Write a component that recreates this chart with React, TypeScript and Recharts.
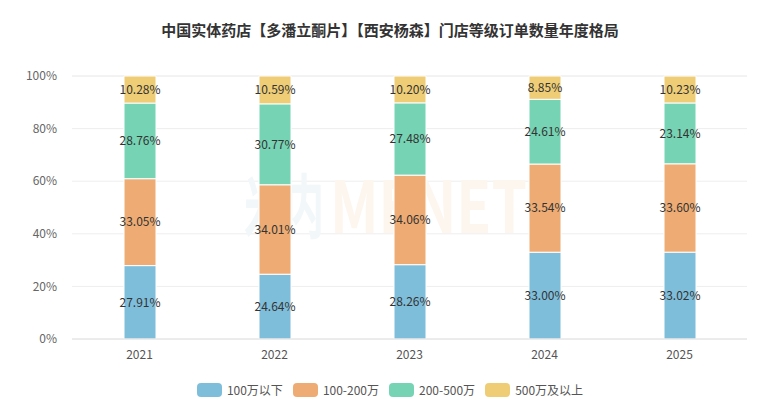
import React from 'react';
import { BarChart, Bar, XAxis, YAxis, CartesianGrid, LabelList, Customized } from 'recharts';

const years = ['2021', '2022', '2023', '2024', '2025'];
const below100 = [27.91, 24.64, 28.26, 33.0, 33.02];
const from100to200 = [33.05, 34.01, 34.06, 33.54, 33.6];
const from200to500 = [28.76, 30.77, 27.48, 24.61, 23.14];
const above500 = [10.28, 10.59, 10.2, 8.85, 10.23];
const yTicks = [0, 20, 40, 60, 80, 100];

const seriesNames = ['100万以下', '100-200万', '200-500万', '500万及以上'];
const seriesKeys = ['s1', 's2', 's3', 's4'];
const colors = ['#7fbedb', '#eeac74', '#76d4b4', '#eecd76'];

const data = years.map((y, i) => ({
  year: y,
  s1: below100[i],
  s2: from100to200[i],
  s3: from200to500[i],
  s4: above500[i],
}));

const FONT = '"Noto Sans CJK SC", "Noto Sans", sans-serif';

const Watermark = () => (
  <g>
    <text x={244} y={233} fontSize={70} fontWeight={700} fill="#f2f7f9" fontFamily={FONT} textLength={80} lengthAdjust="spacingAndGlyphs">米内</text>
    <text x={330} y={233} fontSize={72} fontWeight={700} fill="#fdf6ef" fontFamily={FONT} textLength={197} lengthAdjust="spacingAndGlyphs">MENET</text>
  </g>
);

export default function App() {
  return (
    <div style={{ position: 'absolute', left: 0, top: 0, width: 780, height: 400, background: '#fff' }}>
      <div style={{ position: 'absolute', left: 0, top: 19, width: 780, textAlign: 'center', fontFamily: FONT, fontSize: 15, fontWeight: 700, color: '#333' }}>
        中国实体药店【多潘立酮片】【西安杨森】门店等级订单数量年度格局
      </div>
      <BarChart width={780} height={400} data={data} margin={{ top: 76, right: 33, bottom: 31, left: 0 }}>
        <Customized component={Watermark} />
        <CartesianGrid vertical={false} stroke="#eeeeee" />
        <XAxis dataKey="year" height={30} tickLine={false} axisLine={{ stroke: '#e0e0e0' }} tick={{ fontSize: 12, fill: '#555', fontFamily: FONT }} tickMargin={5} />
        <YAxis domain={[0, 100]} ticks={yTicks} width={72} tickLine={false} axisLine={false} tickFormatter={(v: number) => `${v}%`} tick={{ fontSize: 12, fill: '#666', fontFamily: FONT }} tickMargin={9} />
        {seriesKeys.map((k, i) => (
          <Bar key={k} dataKey={k} name={seriesNames[i]} stackId="a" fill={colors[i]} stroke="#fff" strokeWidth={1} barSize={32} isAnimationActive={false}>
            <LabelList dataKey={k} position="center" formatter={(v: number) => `${v.toFixed(2)}%`} style={{ fontSize: 12, fill: '#333', fontFamily: FONT }} />
          </Bar>
        ))}
      </BarChart>
      <div style={{ position: 'absolute', top: 381, left: 0, width: 780, display: 'flex', justifyContent: 'center', alignItems: 'center', fontFamily: FONT, fontSize: 12, color: '#555' }}>
        {seriesNames.map((n, i) => (
          <div key={n} style={{ display: 'flex', alignItems: 'center', marginRight: i < 3 ? 10 : 0 }}>
            <div style={{ width: 25, height: 14, borderRadius: 4, background: colors[i], marginRight: 5 }} />
            <span>{n}</span>
          </div>
        ))}
      </div>
    </div>
  );
}
